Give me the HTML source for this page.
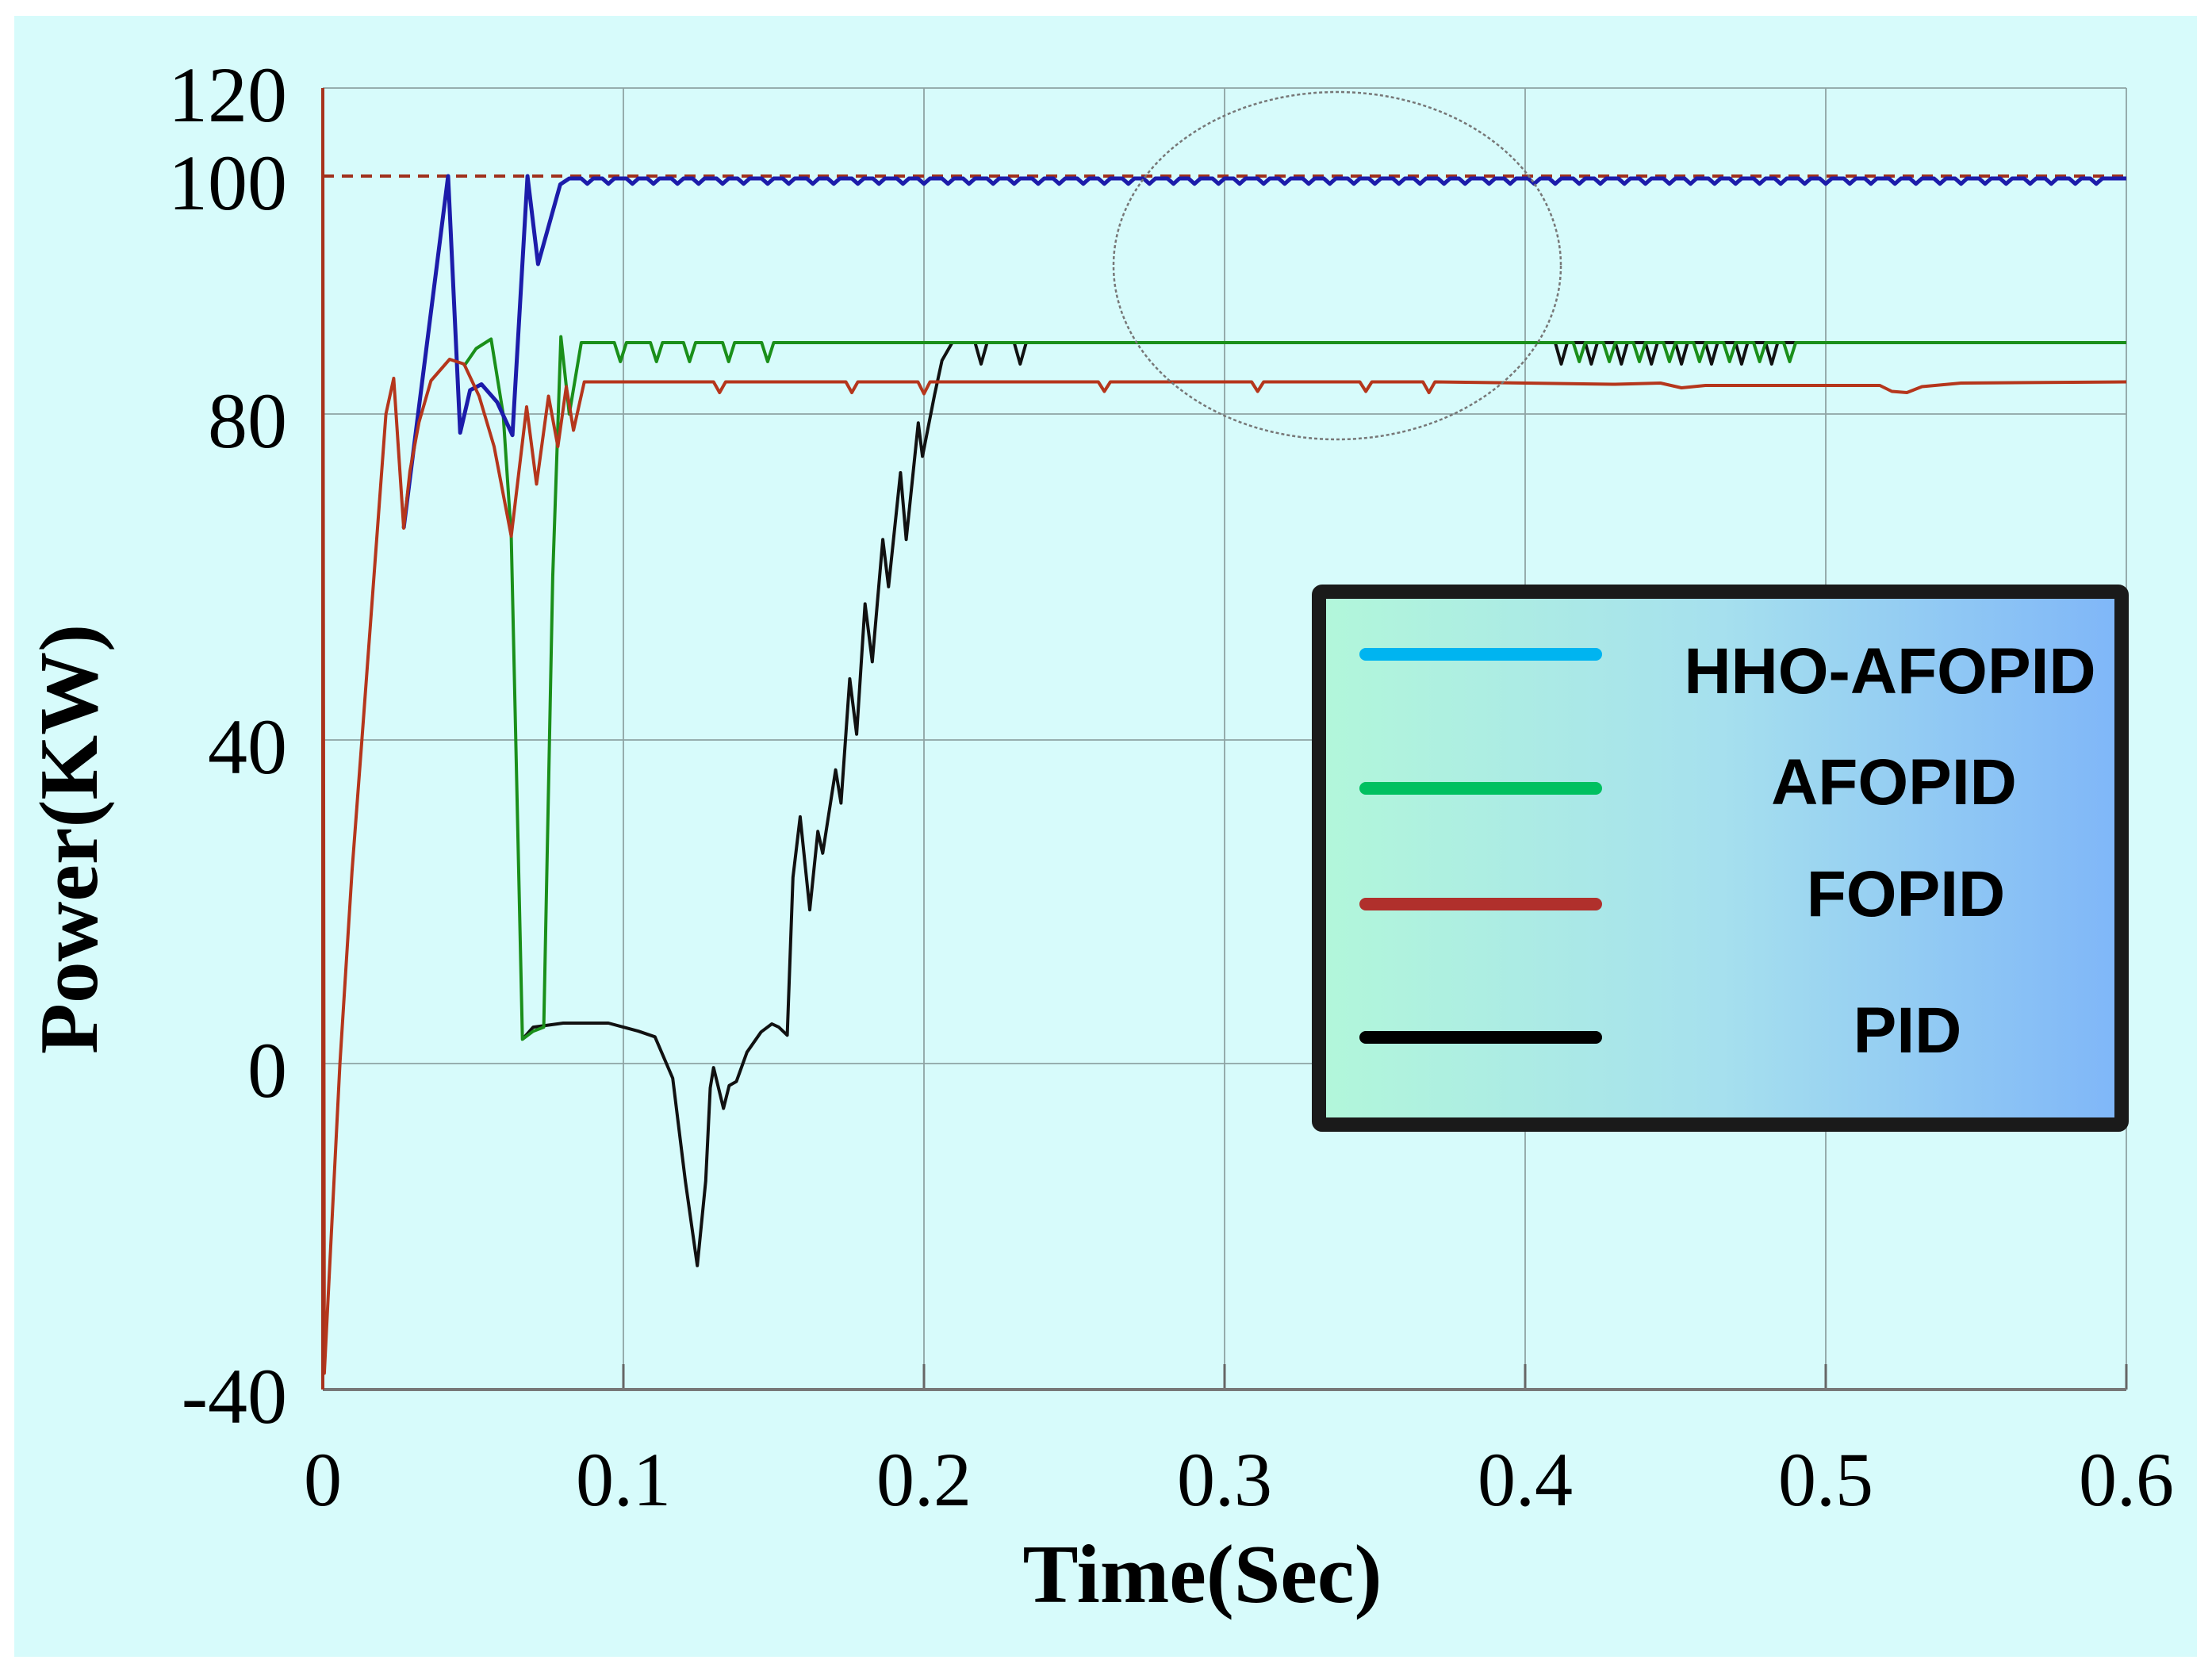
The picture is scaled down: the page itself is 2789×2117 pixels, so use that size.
<!DOCTYPE html>
<html><head><meta charset="utf-8"><style>
html,body{margin:0;padding:0;background:#fff;}
svg{display:block;}
</style></head><body>
<svg id="chart" width="2789" height="2117" viewBox="0 0 2789 2117" xmlns="http://www.w3.org/2000/svg">
<defs>
<linearGradient id="lg" x1="0" y1="0" x2="1" y2="0">
<stop offset="0" stop-color="#b2f7da"/><stop offset="0.5" stop-color="#a6e0ee"/><stop offset="1" stop-color="#7fb6f8"/>
</linearGradient>
</defs>
<rect x="18" y="20" width="2752" height="2069" fill="#d7fbfb"/>
<g id="grid"></g>
<g id="series"></g>
<g id="axes"></g>
<ellipse cx="1686" cy="335" rx="282" ry="219" fill="none" stroke="#777" stroke-width="2.5" stroke-dasharray="4 3"/>
<g>
<rect x="1663" y="746" width="1012" height="672" fill="url(#lg)" stroke="#1a1a1a" stroke-width="18" rx="4"/>
<line x1="1722" y1="825" x2="2012" y2="825" stroke="#00b4f0" stroke-width="16" stroke-linecap="round"/>
<line x1="1722" y1="994" x2="2012" y2="994" stroke="#00c060" stroke-width="16" stroke-linecap="round"/>
<line x1="1722" y1="1140" x2="2012" y2="1140" stroke="#b0302c" stroke-width="16" stroke-linecap="round"/>
<line x1="1722" y1="1308" x2="2012" y2="1308" stroke="#000" stroke-width="16" stroke-linecap="round"/>
<g font-family="Liberation Sans, sans-serif" font-weight="bold" font-size="82" fill="#000" text-anchor="middle">
<text x="2383" y="874">HHO-AFOPID</text>
<text x="2388" y="1014">AFOPID</text>
<text x="2403" y="1155">FOPID</text>
<text x="2405" y="1327">PID</text>
</g>
</g>
<text x="1516" y="2020" font-family="Liberation Serif, serif" font-weight="bold" font-size="105" text-anchor="middle">Time(Sec)</text>
<text transform="translate(122,1058) rotate(-90)" font-family="Liberation Serif, serif" font-weight="bold" font-size="105" text-anchor="middle">Power(KW)</text>
</svg>
<script>
const xTicks = [0, 0.1, 0.2, 0.3, 0.4, 0.5, 0.6];
const xTickLabels = ["0", "0.1", "0.2", "0.3", "0.4", "0.5", "0.6"];
const yTicks = [-40, 0, 40, 80, 100, 120];
const yTickLabels = ["-40", "0", "40", "80", "100", "120"];
const refLevel = 100;

const redT = [0, 0.0005, 0.0057, 0.0097, 0.013, 0.021, 0.0236, 0.0269, 0.029, 0.032, 0.036, 0.0422, 0.047, 0.052, 0.057, 0.0627, 0.0678, 0.0711, 0.0751, 0.0782, 0.081, 0.0834, 0.087, 0.130, 0.132, 0.134, 0.174, 0.176, 0.178, 0.198, 0.200, 0.202, 0.258, 0.260, 0.262, 0.309, 0.311, 0.313, 0.345, 0.347, 0.349, 0.366, 0.368, 0.370, 0.40, 0.43, 0.445, 0.452, 0.46, 0.50, 0.518, 0.522, 0.527, 0.532, 0.545, 0.6];
const redV = [110, -38, 0, 23.7, 40, 80, 83, 66, 73, 79, 82.8, 84.6, 84.2, 81.5, 76, 65, 80.6, 71.4, 81.5, 76, 82.3, 78, 82.7, 82.7, 81.8, 82.7, 82.7, 81.8, 82.7, 82.7, 81.7, 82.7, 82.7, 81.9, 82.7, 82.7, 81.9, 82.7, 82.7, 81.9, 82.7, 82.7, 81.8, 82.7, 82.6, 82.5, 82.6, 82.2, 82.4, 82.4, 82.4, 81.9, 81.8, 82.3, 82.6, 82.7];

const blueT = [0.0269, 0.0417, 0.0457, 0.049, 0.0528, 0.058, 0.0631, 0.0681, 0.0716, 0.0759, 0.079, 0.082, 0.6];
const blueV = [66, 100, 77.7, 82, 82.5, 81, 77.4, 100, 92.6, 96.5, 99.3, 99.8, 99.8];
const blueDipT = [0.088,0.095,0.103,0.110,0.118,0.125,0.133,0.140,0.148,0.155,0.163,0.170,0.178,0.185,0.193,0.200,0.208,0.215,0.223,0.230,0.238,0.245,0.253,0.260,0.268,0.275,0.283,0.290,0.298,0.305,0.313,0.320,0.328,0.335,0.343,0.350,0.358,0.365,0.373,0.380,0.388,0.395,0.403,0.410,0.418,0.425,0.433,0.440,0.448,0.455,0.463,0.470,0.478,0.485,0.493,0.500,0.508,0.515,0.523,0.530,0.538,0.545,0.553,0.560,0.568,0.575,0.583,0.590];
const blueDipV = 99.35;

const greenT = [0.0469, 0.051, 0.056, 0.060, 0.0627, 0.0664, 0.070, 0.0735, 0.0765, 0.0792, 0.082, 0.086, 0.6];
const greenV = [84, 85.5, 86.3, 80, 65, 3, 4, 4.5, 60, 86.5, 80, 86, 86];
const greenDipT = [0.099, 0.111, 0.122, 0.135, 0.148, 0.418, 0.428, 0.438, 0.448, 0.458, 0.468, 0.478, 0.488];
const greenDipV = 84.4;

const blackT = [0.0664, 0.070, 0.080, 0.095, 0.100, 0.105, 0.1105, 0.1164, 0.1206, 0.1246, 0.1274, 0.1289, 0.130, 0.1333, 0.1352, 0.1376, 0.1411, 0.1458, 0.1494, 0.1517, 0.1545, 0.1564, 0.1588, 0.162, 0.1647, 0.1663, 0.1706, 0.1724, 0.1753, 0.1776, 0.1804, 0.1828, 0.1863, 0.1882, 0.1922, 0.1941, 0.1981, 0.1995, 0.2035, 0.206, 0.2094, 0.6];
const blackV = [3, 4.5, 5, 5, 4.5, 4, 3.3, -1.8, -14.4, -24.8, -14.4, -3, -0.5, -5.5, -2.7, -2.2, 1.4, 3.9, 4.9, 4.5, 3.5, 23, 30.5, 19, 28.7, 26, 36.3, 32.2, 47.5, 40.7, 56.7, 49.6, 64.6, 58.8, 72.8, 64.6, 78.9, 74.8, 81.6, 84.5, 86, 86];
const blackDipT = [0.219, 0.232, 0.412, 0.422, 0.432, 0.442, 0.452, 0.462, 0.472, 0.482];
const blackDipV = 84.2;

const NS = "http://www.w3.org/2000/svg";
const X0 = 407, X1 = 2681;
function xs(t) { return X0 + (t - 0) / 0.6 * (X1 - X0); }
const yDom = [-40, 0, 40, 80, 100, 120];
const yRng = [1752, 1341, 933, 522, 222, 111];
function ys(v) {
  if (v <= yDom[0]) return yRng[0] + (v - yDom[0]) * (yRng[1] - yRng[0]) / (yDom[1] - yDom[0]);
  for (let i = 0; i < yDom.length - 1; i++) {
    if (v <= yDom[i + 1]) return yRng[i] + (v - yDom[i]) * (yRng[i + 1] - yRng[i]) / (yDom[i + 1] - yDom[i]);
  }
  const n = yDom.length - 1;
  return yRng[n] + (v - yDom[n]) * (yRng[n] - yRng[n - 1]) / (yDom[n] - yDom[n - 1]);
}
function mk(tag, attrs, parent) {
  const e = document.createElementNS(NS, tag);
  for (const k in attrs) e.setAttribute(k, attrs[k]);
  parent.appendChild(e);
  return e;
}
const grid = document.getElementById('grid');
const axes = document.getElementById('axes');
const series = document.getElementById('series');

xTicks.forEach((t, i) => {
  const l = mk('line', {x1: xs(t), x2: xs(t), y1: ys(120), y2: ys(-40), stroke: '#8ea3a3', 'stroke-width': 1.8}, grid);
  
  
  const tk = mk('line', {x1: xs(t), x2: xs(t), y1: ys(-40), y2: ys(-40) - 32, stroke: '#666', 'stroke-width': 3}, axes);
  
  
  const tx = mk('text', {x: xs(t), y: 1898, 'font-family': 'Liberation Serif, serif', 'font-size': 96, 'text-anchor': 'middle', fill: '#000'}, axes);
  tx.textContent = xTickLabels[i];
  
  
});
yTicks.forEach((v, i) => {
  if (v !== refLevel) {
    const l = mk('line', {x1: X0, x2: X1, y1: ys(v), y2: ys(v), stroke: '#8ea3a3', 'stroke-width': 1.8}, grid);
    
    
  }
  const tx = mk('text', {x: 362, y: ys(v) + 42, 'font-family': 'Liberation Serif, serif', 'font-size': 100, 'text-anchor': 'end', fill: '#000'}, axes);
  tx.textContent = yTickLabels[i];
  
  
});
const xa = mk('line', {x1: X0, x2: X1, y1: ys(-40), y2: ys(-40), stroke: '#777', 'stroke-width': 4}, axes);


const ya = mk('line', {x1: X0, x2: X0, y1: ys(120), y2: ys(-40), stroke: '#a8321c', 'stroke-width': 4}, axes);



const ref = mk('line', {x1: X0, x2: X1, y1: ys(refLevel), y2: ys(refLevel), stroke: '#a0301c', 'stroke-width': 4, 'stroke-dasharray': '14 10'}, series);



function buildPts(T, V, dipT, base, dipV) {
  const pts = T.map((t, i) => [t, V[i]]);
  if (dipT) {
    const start = T[T.length - 2];
    const end = T[T.length - 1];
    const tail = [];
    dipT.forEach(d => {
      if (d > start && d < end) {
        tail.push([d - 0.002, base], [d, dipV], [d + 0.002, base]);
      }
    });
    pts.splice(pts.length - 1, 0, ...tail);
  }
  return pts;
}
function draw(pts, color, name, w) {
  const d = pts.map((p, i) => (i ? 'L' : 'M') + xs(p[0]).toFixed(1) + ' ' + ys(p[1]).toFixed(1)).join(' ');
  const p = mk('path', {d: d, fill: 'none', stroke: color, 'stroke-width': w, 'stroke-linejoin': 'round'}, series);
  
  
}
draw(buildPts(blackT, blackV, blackDipT, blackV[blackV.length - 1], blackDipV), '#111', 'series-pid', 4);
draw(buildPts(greenT, greenV, greenDipT, greenV[greenV.length - 1], greenDipV), '#1a8f1a', 'series-afopid', 4);
draw(buildPts(blueT, blueV, blueDipT, blueV[blueV.length - 1], blueDipV), '#1c1caa', 'series-hho-afopid', 5);
draw(buildPts(redT, redV, null), '#b5361c', 'series-fopid', 4);
</script>
</body></html>
